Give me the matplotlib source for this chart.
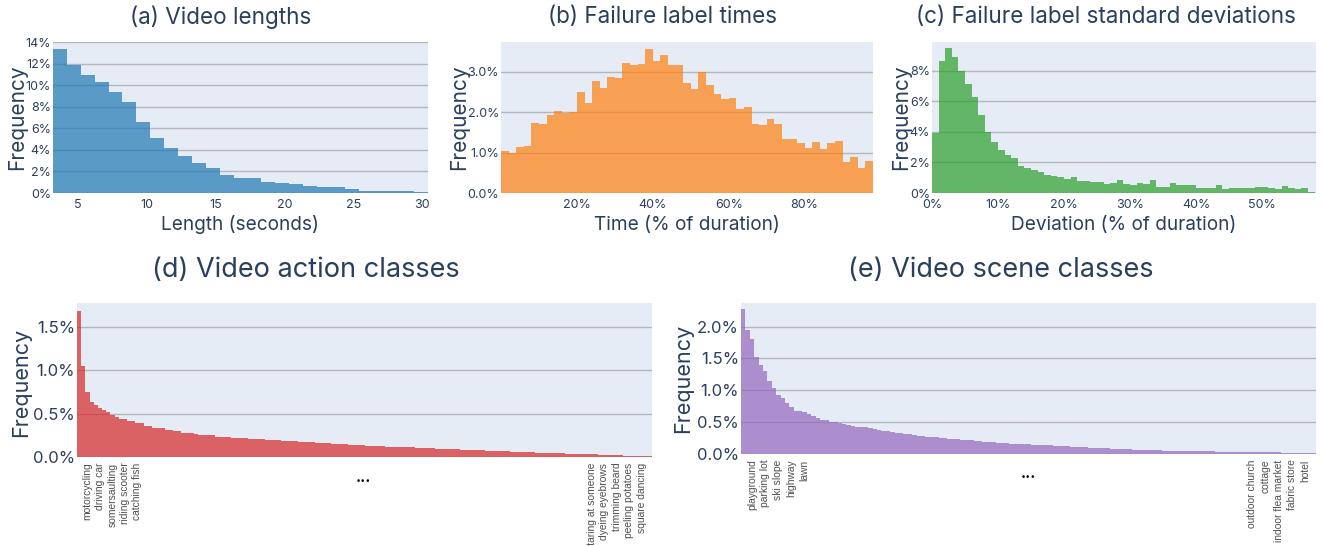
import numpy as np
import matplotlib
matplotlib.use('Agg')
import matplotlib.pyplot as plt
from matplotlib.ticker import FuncFormatter

# ---------------- data (percent frequencies) ----------------
# (a) video lengths, 1-second-ish bins
len_bin_start = 3.18
len_bin_width = 1.0096
len_freq = [13.38, 11.85, 10.9, 10.3, 9.35, 8.43, 6.55, 5.1, 4.2, 3.45, 2.8, 2.35,
            1.7, 1.35, 1.35, 1.05, 0.95, 0.85, 0.68, 0.52, 0.52, 0.4, 0.22, 0.22,
            0.22, 0.22, 0.12]

# (b) failure label times, 2% bins
time_bin_width = 2.0
time_freq = [1.05, 1.0, 1.15, 1.17, 1.73, 1.72, 1.92, 2.02, 1.98, 2.0, 2.5, 2.23,
             2.77, 2.6, 2.88, 2.84, 3.22, 3.16, 3.2, 3.57, 3.26, 3.42, 3.17, 3.18,
             2.73, 2.58, 3.0, 2.67, 2.44, 2.33, 2.35, 2.08, 2.12, 1.72, 1.68, 1.84,
             1.72, 1.34, 1.33, 1.25, 1.12, 1.27, 1.08, 1.24, 1.28, 0.76, 0.88, 0.62,
             0.8]

# (c) failure label standard deviations, 1% bins
dev_bin_width = 1.0
dev_freq = [3.92, 8.65, 9.48, 8.93, 8.0, 7.12, 6.3, 5.12, 3.99, 3.36, 2.79, 2.5,
            2.3, 1.74, 1.62, 1.48, 1.38, 1.18, 1.13, 1.03, 0.93, 1.08, 0.8, 0.8,
            0.75, 0.75, 0.6, 0.65, 0.85, 0.6, 0.55, 0.65, 0.6, 0.85, 0.4, 0.4,
            0.65, 0.5, 0.55, 0.55, 0.35, 0.3, 0.35, 0.55, 0.25, 0.3, 0.3, 0.3,
            0.3, 0.4, 0.4, 0.35, 0.25, 0.45, 0.3, 0.25, 0.3, 0.05]

# (d) action classes, sorted frequencies (%)
action_freq = [1.69, 1.05, 0.75, 0.64, 0.60, 0.57, 0.54, 0.52, 0.49, 0.46, 0.435, 0.435,
               0.415, 0.415, 0.395, 0.39, 0.36, 0.36, 0.34, 0.34, 0.335, 0.31, 0.31, 0.305,
               0.30, 0.28, 0.28, 0.275, 0.27, 0.26, 0.26, 0.255, 0.25, 0.235, 0.235, 0.23,
               0.228, 0.225, 0.222, 0.219, 0.215, 0.212, 0.209, 0.206, 0.203, 0.200, 0.197, 0.194,
               0.191, 0.188, 0.185, 0.183, 0.180, 0.177, 0.175, 0.172, 0.169, 0.166, 0.163, 0.160,
               0.157, 0.154, 0.151, 0.148, 0.145, 0.143, 0.140, 0.137, 0.134, 0.131, 0.129, 0.127,
               0.125, 0.123, 0.121, 0.119, 0.117, 0.115, 0.114, 0.112, 0.110, 0.108, 0.106, 0.104,
               0.102, 0.100, 0.098, 0.096, 0.094, 0.092, 0.090, 0.088, 0.086, 0.084, 0.082, 0.080,
               0.078, 0.077, 0.075, 0.073, 0.071, 0.069, 0.067, 0.065, 0.063, 0.061, 0.059, 0.057,
               0.056, 0.054, 0.052, 0.050, 0.048, 0.047, 0.045, 0.044, 0.042, 0.040, 0.039, 0.037,
               0.035, 0.034, 0.032, 0.030, 0.029, 0.027, 0.025, 0.024, 0.022, 0.020, 0.019, 0.017,
               0.015, 0.014, 0.012, 0.010, 0.008, 0.006]
action_head_labels = ["motorcycling", "driving car", "somersaulting", "riding scooter", "catching fish"]
action_tail_labels = ["staring at someone", "dyeing eyebrows", "trimming beard", "peeling potatoes", "square dancing"]

# (e) scene classes, sorted frequencies (%)
scene_freq = [2.27, 1.95, 1.80, 1.52, 1.40, 1.31, 1.15, 1.04, 0.93, 0.88, 0.80, 0.74,
              0.68, 0.68, 0.655, 0.62, 0.59, 0.56, 0.54, 0.53, 0.51, 0.51, 0.485, 0.47,
              0.45, 0.435, 0.43, 0.42, 0.42, 0.415, 0.40, 0.38, 0.367, 0.365, 0.35, 0.335,
              0.33, 0.32, 0.31, 0.30, 0.28, 0.275, 0.27, 0.265, 0.26, 0.255, 0.248, 0.242,
              0.236, 0.230, 0.224, 0.218, 0.212, 0.206, 0.200, 0.194, 0.188, 0.183, 0.178, 0.173,
              0.168, 0.164, 0.160, 0.157, 0.154, 0.151, 0.147, 0.144, 0.140, 0.137, 0.134, 0.130,
              0.126, 0.122, 0.118, 0.114, 0.111, 0.107, 0.103, 0.099, 0.096, 0.093, 0.090, 0.087,
              0.084, 0.081, 0.079, 0.076, 0.073, 0.070, 0.067, 0.064, 0.061, 0.059, 0.057, 0.055,
              0.053, 0.052, 0.051, 0.050, 0.049, 0.047, 0.046, 0.045, 0.044, 0.042, 0.041, 0.040,
              0.039, 0.037, 0.036, 0.035, 0.034, 0.033, 0.032, 0.031, 0.030, 0.029, 0.028, 0.027,
              0.026, 0.025, 0.024, 0.023, 0.022, 0.021, 0.020, 0.019, 0.018, 0.017, 0.016]
scene_head_labels = ["playground", "parking lot", "ski slope", "highway", "lawn"]
scene_tail_labels = ["outdoor church", "cottage", "indoor flea market", "fabric store", "hotel"]

# ---------------- styling ----------------
W, H = 1322, 546
fig = plt.figure(figsize=(W / 100, H / 100), dpi=100)
FONT = ['Inter', 'DejaVu Sans']
plt.rcParams['font.family'] = FONT
BG = '#E5ECF6'
GRID = '#b4b7be'
TXT = '#2a3f5f'
COLORS = ['#1f77b4', '#ff7f0e', '#2ca02c', '#d62728', '#9467bd']


def px_axes(l, t, r, b):
    return fig.add_axes([l / W, 1 - b / H, (r - l) / W, (b - t) / H])


def style(ax, ytick_size):
    ax.set_facecolor(BG)
    for s in ax.spines.values():
        s.set_visible(False)
    ax.yaxis.grid(True, color=GRID, lw=1.0)
    ax.xaxis.grid(False)
    ax.set_axisbelow(True)
    ax.tick_params(axis='both', length=0, colors=TXT)
    ax.tick_params(axis='y', labelsize=ytick_size, pad=1.5)


def pct(fmt):
    return FuncFormatter(lambda v, p: fmt.format(v) + '%')


def ftext(x, y, s, **kw):
    fig.text(x / W, 1 - y / H, s, ha='center', va='center', color=TXT, **kw)


# (a)
ax = px_axes(53, 42, 428, 193)
style(ax, 9)
edges = len_bin_start + len_bin_width * np.arange(len(len_freq) + 1)
ax.stairs(len_freq, edges, fill=True, color=COLORS[0], alpha=0.7, lw=0)
ax.set_xlim(edges[0], edges[-1])
ax.set_ylim(0, 14)
ax.set_yticks(np.arange(0, 15, 2))
ax.yaxis.set_major_formatter(pct('{:.0f}'))
ax.set_xticks([5, 10, 15, 20, 25, 30])
ax.tick_params(axis='x', labelsize=9, pad=4)
ftext(221, 17, '(a) Video lengths', fontsize=16.2)
ftext(240, 225, 'Length (seconds)', fontsize=13.7)
ftext(17, 117, 'Frequency', fontsize=15, rotation=90)

# (b)
ax = px_axes(501, 42, 873, 193)
style(ax, 9)
edges = time_bin_width * np.arange(len(time_freq) + 1)
ax.stairs(time_freq, edges, fill=True, color=COLORS[1], alpha=0.7, lw=0)
ax.set_xlim(edges[0], edges[-1])
ax.set_ylim(0, 3.74)
ax.set_yticks([0, 1, 2, 3])
ax.yaxis.set_major_formatter(pct('{:.1f}'))
ax.set_xticks([20, 40, 60, 80])
ax.xaxis.set_major_formatter(pct('{:.0f}'))
ax.tick_params(axis='x', labelsize=9, pad=4)
ftext(663, 17, '(b) Failure label times', fontsize=16.2)
ftext(687, 225, 'Time (% of duration)', fontsize=13.7)
ftext(459, 117, 'Frequency', fontsize=15, rotation=90)

# (c)
ax = px_axes(932, 42, 1316, 193)
style(ax, 9)
edges = dev_bin_width * np.arange(len(dev_freq) + 1)
ax.stairs(dev_freq, edges, fill=True, color=COLORS[2], alpha=0.7, lw=0)
ax.set_xlim(0, 58.2)
ax.set_ylim(0, 9.9)
ax.set_yticks([0, 2, 4, 6, 8])
ax.yaxis.set_major_formatter(pct('{:.0f}'))
ax.set_xticks([0, 10, 20, 30, 40, 50])
ax.xaxis.set_major_formatter(pct('{:.0f}'))
ax.tick_params(axis='x', labelsize=9, pad=4)
ftext(1106, 17, '(c) Failure label standard deviations', fontsize=16.2)
ftext(1124, 225, 'Deviation (% of duration)', fontsize=13.7)
ftext(901, 117, 'Frequency', fontsize=15, rotation=90)


def class_panel(ax, vals, color, head, tail, ymax, yticks):
    style(ax, 12)
    n = len(vals)
    edges = np.arange(n + 1) - 0.5
    ax.stairs(vals, edges, fill=True, color=color, alpha=0.7, lw=0)
    ax.set_xlim(-0.5, n - 0.5)
    ax.set_ylim(0, ymax)
    ax.set_yticks(yticks)
    ax.yaxis.set_major_formatter(pct('{:.1f}'))
    pos = [2 + 3 * k for k in range(len(head))] + [n - 15 + 3 * k for k in range(len(tail))]
    ax.set_xticks(pos)
    ax.set_xticklabels(head + tail, rotation=90, fontsize=7.4,
                       family=['Liberation Sans', 'DejaVu Sans'], color='#505050')
    ax.tick_params(axis='x', pad=4)


# (d)
ax = px_axes(77, 303, 652, 457)
class_panel(ax, action_freq, COLORS[3], action_head_labels, action_tail_labels,
            1.78, [0, 0.5, 1.0, 1.5])
ftext(306, 270, '(d) Video action classes', fontsize=19.5)
ftext(21, 382, 'Frequency', fontsize=15.5, rotation=90)
fig.text(363 / W, 1 - 478 / H, '...', ha='center', va='center', color='black',
         fontsize=11, fontweight='bold')

# (e)
ax = px_axes(741, 303, 1316, 454)
class_panel(ax, scene_freq, COLORS[4], scene_head_labels, scene_tail_labels,
            2.37, [0, 0.5, 1.0, 1.5, 2.0])
ftext(1001, 270, '(e) Video scene classes', fontsize=19.5)
ftext(683, 378, 'Frequency', fontsize=15.5, rotation=90)
fig.text(1028 / W, 1 - 473 / H, '...', ha='center', va='center', color='black',
         fontsize=11, fontweight='bold')

fig.savefig('out.png', dpi=100, facecolor='white')
